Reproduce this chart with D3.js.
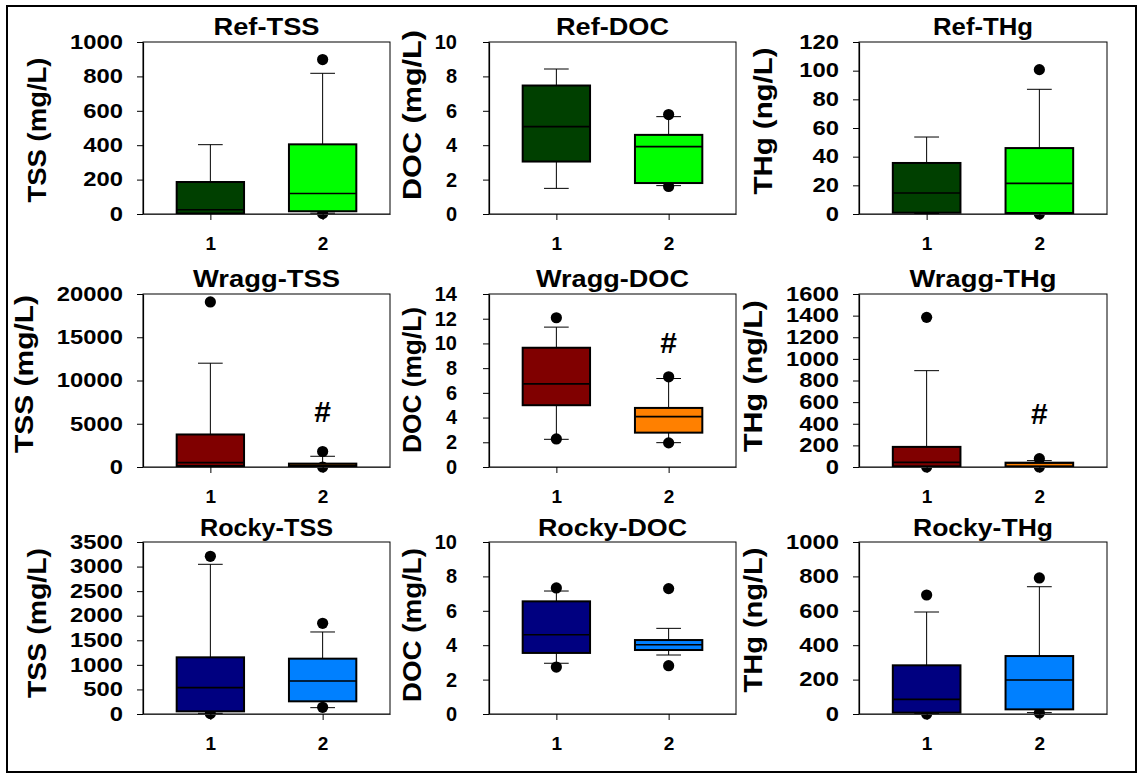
<!DOCTYPE html>
<html>
<head>
<meta charset="utf-8">
<script src="https://cdn.jsdelivr.net/npm/d3@7"></script>
<style>
  html, body { margin: 0; padding: 0; background: #fff; }
  svg text { font-family: "Liberation Sans", Arial, sans-serif; font-weight: bold; fill: #000; }
</style>
</head>
<body>
<svg id="chart" width="1139" height="774"></svg>
<script>
// ---------------- DATA ----------------
const sites = ["Ref", "Wragg", "Rocky"];
const params = ["TSS", "DOC", "THg"];
const yLabels = ["TSS (mg/L)", "DOC (mg/L)", "THg (ng/L)"];
const categories = ["1", "2"];

// y axis maxima and tick steps per [site][param]
const yMax  = [[1000, 10, 120], [20000, 14, 1600], [3500, 10, 1000]];
const yStep = [[200, 2, 20],    [5000, 2, 200],    [500, 2, 200]];

// box stats per category: [lower whisker, Q1, median, Q3, upper whisker]
const refTSS   = [[0, 3, 25, 186, 403],        [5, 16, 119, 405, 818]];
const refDOC   = [[1.49, 3.05, 5.08, 7.47, 8.43], [1.65, 1.8, 3.92, 4.6, 5.66]];
const refTHg   = [[0.3, 0.9, 14.7, 35.6, 53.7], [0.3, 0.7, 21.4, 46, 87]];
const wraggTSS = [[60, 116, 510, 3760, 12000], [40, 80, 200, 390, 1240]];
const wraggDOC = [[2.24, 5.0, 6.73, 9.65, 11.32], [1.97, 2.78, 4.08, 4.78, 7.16]];
const wraggTHg = [[3, 6, 43, 186, 891],       [3, 6, 38, 40, 59]];
const rockyTSS = [[14, 54, 536, 1153, 3046],  [129, 258, 672, 1126, 1669]];
const rockyDOC = [[2.95, 3.55, 4.61, 6.55, 7.15], [3.43, 3.72, 4.03, 4.3, 4.98]];
const rockyTHg = [[4, 8, 85, 283, 593],       [8, 27, 198, 337, 740]];

// outliers per category
const refTSSOut   = [[], [2, 898]];
const refDOCOut   = [[], [1.6, 5.78]];
const refTHgOut   = [[], [0, 100.7]];
const wraggTSSOut = [[19080], [0, 1790]];
const wraggDOCOut = [[2.27, 12.08], [1.95, 7.3]];
const wraggTHgOut = [[0, 1384], [0, 77]];
const rockyTSSOut = [[7, 3209], [136, 1845]];
const rockyDOCOut = [[2.73, 7.33], [2.81, 7.29]];
const rockyTHgOut = [[0, 692], [6, 791]];

// significance marks "#": panel (row, col), category, y value
const hashRow = [1, 1, 1];
const hashCol = [0, 1, 2];
const hashCat = [2, 2, 2];
const hashY   = [6500, 10.1, 500];

const stats = [[refTSS, refDOC, refTHg], [wraggTSS, wraggDOC, wraggTHg], [rockyTSS, rockyDOC, rockyTHg]];
const outliers = [[refTSSOut, refDOCOut, refTHgOut], [wraggTSSOut, wraggDOCOut, wraggTHgOut], [rockyTSSOut, rockyDOCOut, rockyTHgOut]];

// ---------------- STYLE / LAYOUT ----------------
const siteColors = [["#004000", "#00ff00"], ["#800000", "#ff8000"], ["#000080", "#0080ff"]];
const colLeft = [143, 489, 859];
const colWidth = [247, 247, 248];
const rowTop = [42, 294, 542];
const rowBottom = [214, 467, 714];
const titleBaseline = [35, 287, 536];
const titleLen = [[106, 113, 100], [147, 153, 147], [133, 149, 140]];
const yLabelX = [[46, 421, 772], [33, 421, 762], [46, 421, 762]];
const yLabelCY = [[130, 115, 121], [374, 380, 376], [623, 625, 620]];
const yLabelLen = [[145, 170, 147], [158, 146, 152], [150, 154, 145]];
const yLabelSize = [25, 26.5, 26];
const tickPad = [14, 26, 14];
const tickStretch = [1.22, 1.0, 1.22];
const tickFont = [19.5, 20, 19.5];

const svg = d3.select("#chart");

// outer border
svg.append("rect").attr("x", 7).attr("y", 6).attr("width", 1129).attr("height", 766)
  .attr("fill", "none").attr("stroke", "#000").attr("stroke-width", 2);

for (let r = 0; r < 3; r++) {
  for (let c = 0; c < 3; c++) {
    const x0 = colLeft[c], x1 = colLeft[c] + colWidth[c];
    const y0 = rowTop[r], y1 = rowBottom[r];
    const x = d3.scaleLinear().domain([0.4, 2.6]).range([x0, x1]);
    const y = d3.scaleLinear().domain([0, yMax[r][c]]).range([y1, y0]);
    const g = svg.append("g");

    // frame (top/right)
    g.append("rect").attr("x", x0).attr("y", y0).attr("width", x1 - x0).attr("height", y1 - y0)
      .attr("fill", "none").attr("stroke", "#000").attr("stroke-width", 1);

    const st = stats[r][c];
    const ol = outliers[r][c];
    const bw = x(1.3) - x(1.0);   // half box width (0.3 units)
    const cw = x(1.11) - x(1.0);  // half cap width

    st.forEach((s, i) => {
      const cx = x(i + 1);
      // whiskers
      g.append("line").attr("x1", cx).attr("x2", cx).attr("y1", y(s[3])).attr("y2", y(s[4]))
        .attr("stroke", "#000").attr("stroke-width", 1);
      g.append("line").attr("x1", cx).attr("x2", cx).attr("y1", y(s[1])).attr("y2", y(s[0]))
        .attr("stroke", "#000").attr("stroke-width", 1);
      [s[0], s[4]].forEach(v => {
        g.append("line").attr("x1", cx - cw).attr("x2", cx + cw).attr("y1", y(v)).attr("y2", y(v))
          .attr("stroke", "#000").attr("stroke-width", 1);
      });
      // outliers
      ol[i].forEach(v => {
        g.append("circle").attr("cx", cx).attr("cy", y(v)).attr("r", 5.6).attr("fill", "#000");
      });
      // box
      g.append("rect").attr("x", cx - bw).attr("y", y(s[3])).attr("width", 2 * bw)
        .attr("height", Math.max(0, y(s[1]) - y(s[3])))
        .attr("fill", siteColors[r][i]).attr("stroke", "#000").attr("stroke-width", 2);
      // median
      g.append("line").attr("x1", cx - bw).attr("x2", cx + bw).attr("y1", y(s[2])).attr("y2", y(s[2]))
        .attr("stroke", "#000").attr("stroke-width", 1.6);
    });

    // y axis
    const ticks = d3.range(0, yMax[r][c] + yStep[r][c] / 2, yStep[r][c]);
    const ya = g.append("g").attr("transform", `translate(${x0},0)`)
      .call(d3.axisLeft(y).tickValues(ticks).tickFormat(d3.format("d"))
        .tickSize(6).tickSizeOuter(0).tickPadding(tickPad[c]));
    ya.select(".domain").attr("stroke", "#000").attr("stroke-width", 1.2);
    ya.selectAll(".tick line").attr("stroke", "#000");
    ya.selectAll(".tick text").attr("font-size", tickFont[c]).attr("fill", "#000")
      .attr("font-family", "'Liberation Sans', Arial, sans-serif").attr("font-weight", "bold")
      .each(function () {
        const L = this.getComputedTextLength();
        d3.select(this).attr("textLength", L * tickStretch[c]).attr("lengthAdjust", "spacingAndGlyphs");
      });

    // x axis
    const xa = g.append("g").attr("transform", `translate(0,${y1})`)
      .call(d3.axisBottom(x).tickValues([1, 2]).tickFormat(d => categories[d - 1])
        .tickSize(6).tickSizeOuter(0).tickPadding(17));
    xa.select(".domain").attr("stroke", "#333").attr("stroke-width", 1.2);
    xa.selectAll(".tick line").attr("stroke", "#000");
    xa.selectAll(".tick text").attr("font-size", 19).attr("fill", "#000")
      .attr("font-family", "'Liberation Sans', Arial, sans-serif").attr("font-weight", "bold");

    // title
    g.append("text").attr("x", (x0 + x1) / 2).attr("y", titleBaseline[r])
      .attr("text-anchor", "middle").attr("font-size", 24.5)
      .attr("textLength", titleLen[r][c]).attr("lengthAdjust", "spacingAndGlyphs")
      .text(`${sites[r]}-${params[c]}`);

    // y label
    g.append("text")
      .attr("transform", `translate(${yLabelX[r][c]},${yLabelCY[r][c]}) rotate(-90)`)
      .attr("text-anchor", "middle").attr("font-size", yLabelSize[c])
      .attr("textLength", yLabelLen[r][c]).attr("lengthAdjust", "spacingAndGlyphs")
      .text(yLabels[c]);

    // significance marks
    hashRow.forEach((hr, k) => {
      if (hr === r && hashCol[k] === c) {
        g.append("text").attr("x", x(hashCat[k])).attr("y", y(hashY[k])).attr("dy", "0.36em")
          .attr("text-anchor", "middle").attr("font-size", 30).text("#");
      }
    });
  }
}
</script>
</body>
</html>
